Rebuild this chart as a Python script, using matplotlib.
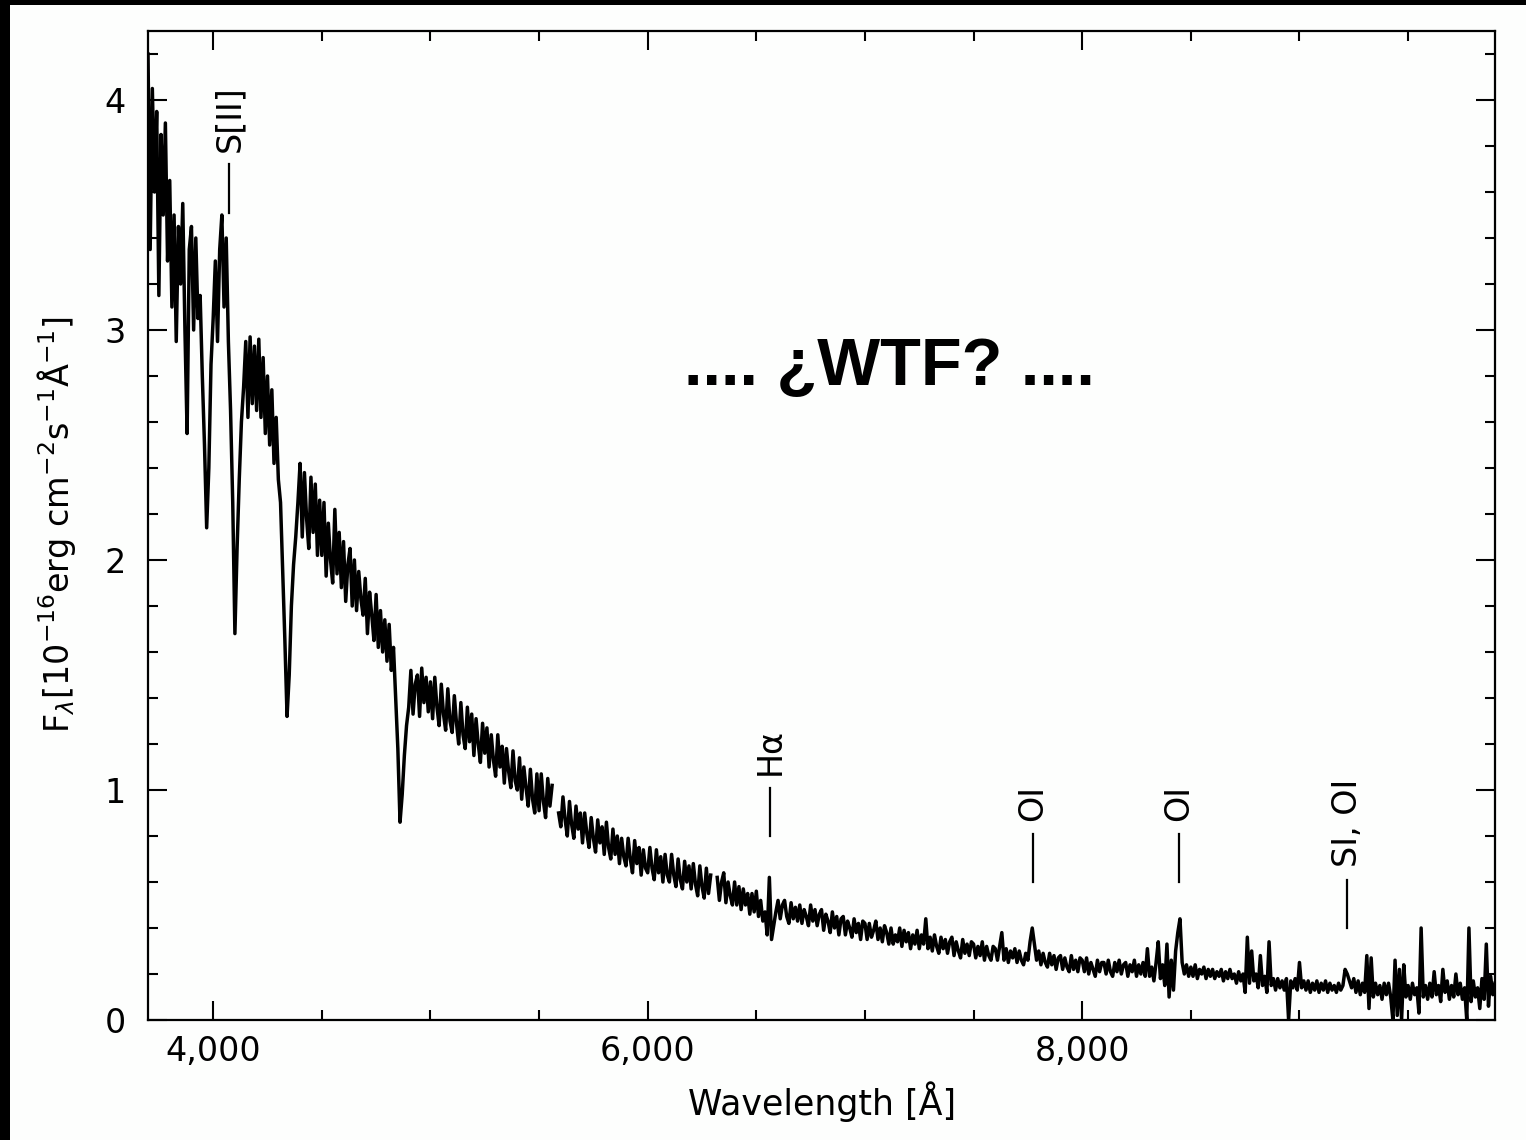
import numpy as np
import matplotlib
matplotlib.use("Agg")
import matplotlib.pyplot as plt
from matplotlib.patches import Rectangle
from matplotlib.ticker import MultipleLocator

# spectrum: flux in 1e-16 erg/cm2/s/A, one value every 10 A starting at 3700 A
WAVE_START = 3700
WAVE_STEP = 10
nan = np.nan

FLUX_3700_4990 = [
    4.20, 3.35, 4.05, 3.60, 3.95, 3.15, 3.85, 3.50, 3.90, 3.30,   # 3700
    3.65, 3.10, 3.50, 2.95, 3.45, 3.20, 3.55, 3.00, 2.55, 3.35,   # 3800
    3.45, 3.00, 3.40, 3.05, 3.15, 2.80, 2.50, 2.14, 2.40, 2.85,   # 3900
    3.05, 3.30, 2.95, 3.35, 3.50, 3.10, 3.40, 2.95, 2.65, 2.25,   # 4000
    1.68, 2.05, 2.35, 2.60, 2.75, 2.95, 2.62, 2.97, 2.68, 2.93,   # 4100
    2.65, 2.96, 2.62, 2.88, 2.55, 2.80, 2.50, 2.74, 2.42, 2.62,   # 4200
    2.35, 2.25, 1.95, 1.65, 1.32, 1.50, 1.80, 1.98, 2.10, 2.25,   # 4300
    2.42, 2.10, 2.38, 2.18, 2.05, 2.36, 2.12, 2.33, 2.02, 2.26,   # 4400
    2.02, 2.25, 1.93, 2.16, 2.00, 1.90, 2.22, 1.94, 2.12, 1.88,   # 4500
    2.08, 1.82, 1.98, 2.05, 1.80, 2.00, 1.78, 1.95, 1.83, 1.76,   # 4600
    1.92, 1.68, 1.86, 1.76, 1.65, 1.85, 1.62, 1.78, 1.60, 1.74,   # 4700
    1.56, 1.72, 1.52, 1.62, 1.40, 1.18, 0.86, 0.98, 1.15, 1.28,   # 4800
    1.36, 1.52, 1.33, 1.46, 1.50, 1.32, 1.53, 1.38, 1.49, 1.34,   # 4900
]
FLUX_5000_6490 = [
    1.47, 1.31, 1.49, 1.36, 1.28, 1.46, 1.33, 1.26, 1.44, 1.30,   # 5000
    1.25, 1.41, 1.29, 1.20, 1.38, 1.24, 1.18, 1.36, 1.21, 1.33,   # 5100
    1.15, 1.31, 1.20, 1.12, 1.29, 1.16, 1.27, 1.10, 1.24, 1.13,   # 5200
    1.06, 1.24, 1.10, 1.19, 1.03, 1.18, 1.08, 1.01, 1.17, 1.04,   # 5300
    1.00, 1.14, 0.96, 1.10, 1.01, 0.93, 1.09, 0.96, 0.90, 1.07,   # 5400
    0.91, 1.07, 0.95, 0.88, 1.05, 0.93, 1.02, nan,  nan,  0.90,   # 5500
    0.84, 0.97, 0.87, 0.80, 0.95, 0.85, 0.79, 0.93, 0.83, 0.90,   # 5600
    0.77, 0.90, 0.81, 0.75, 0.88, 0.79, 0.73, 0.87, 0.77, 0.84,   # 5700
    0.72, 0.86, 0.75, 0.70, 0.83, 0.72, 0.80, 0.68, 0.79, 0.71,   # 5800
    0.67, 0.79, 0.70, 0.64, 0.78, 0.68, 0.75, 0.63, 0.74, 0.66,   # 5900
    0.64, 0.75, 0.66, 0.61, 0.74, 0.64, 0.71, 0.60, 0.72, 0.63,   # 6000
    0.60, 0.72, 0.63, 0.58, 0.70, 0.61, 0.57, 0.69, 0.60, 0.67,   # 6100
    0.57, 0.68, 0.59, 0.54, 0.67, 0.58, 0.53, 0.66, 0.55, 0.63,   # 6200
    nan,  nan,  0.62, 0.52, 0.60, 0.64, 0.51, 0.60, 0.54, 0.50,   # 6300
    0.60, 0.50, 0.58, 0.48, 0.57, 0.50, 0.55, 0.46, 0.55, 0.47,   # 6400
]
FLUX_6500_7990 = [
    0.56, 0.45, 0.52, 0.43, 0.47, 0.37, 0.62, 0.35, 0.41, 0.47,   # 6500
    0.52, 0.44, 0.50, 0.52, 0.45, 0.42, 0.51, 0.44, 0.49, 0.43,   # 6600
    0.50, 0.42, 0.48, 0.45, 0.41, 0.50, 0.43, 0.48, 0.41, 0.46,   # 6700
    0.48, 0.39, 0.46, 0.43, 0.38, 0.47, 0.40, 0.45, 0.37, 0.44,   # 6800
    0.45, 0.37, 0.43, 0.40, 0.36, 0.44, 0.38, 0.42, 0.35, 0.43,   # 6900
    0.42, 0.35, 0.42, 0.36, 0.39, 0.43, 0.35, 0.40, 0.34, 0.41,   # 7000
    0.38, 0.33, 0.40, 0.33, 0.37, 0.34, 0.40, 0.32, 0.39, 0.34,   # 7100
    0.38, 0.31, 0.37, 0.33, 0.39, 0.31, 0.37, 0.33, 0.44, 0.31,   # 7200
    0.36, 0.30, 0.37, 0.32, 0.29, 0.36, 0.31, 0.35, 0.29, 0.34,   # 7300
    0.36, 0.28, 0.34, 0.30, 0.27, 0.35, 0.29, 0.33, 0.28, 0.34,   # 7400
    0.33, 0.27, 0.32, 0.28, 0.34, 0.26, 0.32, 0.28, 0.26, 0.32,   # 7500
    0.31, 0.26, 0.32, 0.38, 0.26, 0.31, 0.25, 0.30, 0.27, 0.31,   # 7600
    0.25, 0.30, 0.26, 0.24, 0.29, 0.26, 0.34, 0.40, 0.33, 0.26,   # 7700
    0.30, 0.24, 0.29, 0.25, 0.23, 0.29, 0.24, 0.28, 0.22, 0.27,   # 7800
    0.28, 0.22, 0.27, 0.23, 0.21, 0.28, 0.22, 0.26, 0.21, 0.27,   # 7900
]
FLUX_8000_9900 = [
    0.26, 0.21, 0.27, 0.20, 0.25, 0.22, 0.19, 0.26, 0.21, 0.25,   # 8000
    0.25, 0.20, 0.26, 0.21, 0.19, 0.25, 0.21, 0.26, 0.20, 0.24,   # 8100
    0.25, 0.19, 0.24, 0.21, 0.26, 0.19, 0.24, 0.20, 0.25, 0.19,   # 8200
    0.31, 0.19, 0.23, 0.17, 0.25, 0.34, 0.18, 0.24, 0.15, 0.33,   # 8300
    0.10, 0.26, 0.13, 0.30, 0.38, 0.44, 0.25, 0.20, 0.24, 0.19,   # 8400
    0.23, 0.19, 0.24, 0.18, 0.22, 0.20, 0.23, 0.18, 0.22, 0.19,   # 8500
    0.22, 0.18, 0.21, 0.19, 0.22, 0.17, 0.21, 0.18, 0.22, 0.18,   # 8600
    0.20, 0.16, 0.21, 0.17, 0.20, 0.12, 0.36, 0.16, 0.30, 0.17,   # 8700
    0.20, 0.14, 0.28, 0.15, 0.19, 0.12, 0.34, 0.15, 0.18, 0.13,   # 8800
    0.18, 0.14, 0.17, 0.13, 0.18, 0.00, 0.17, 0.14, 0.18, 0.13,   # 8900
    0.25, 0.14, 0.17, 0.13, 0.17, 0.12, 0.16, 0.13, 0.17, 0.12,   # 9000
    0.16, 0.13, 0.17, 0.12, 0.16, 0.13, 0.15, 0.12, 0.16, 0.13,   # 9100
    0.15, 0.22, 0.20, 0.17, 0.14, 0.18, 0.12, 0.17, 0.11, 0.16,   # 9200
    0.12, 0.28, 0.05, 0.27, 0.10, 0.16, 0.11, 0.15, 0.09, 0.16,   # 9300
    0.11, 0.16, 0.10, 0.00, 0.26, 0.02, 0.22, 0.00, 0.24, 0.10,   # 9400
    0.15, 0.09, 0.16, 0.11, 0.14, 0.03, 0.40, 0.10, 0.15, 0.09,   # 9500
    0.16, 0.10, 0.21, 0.11, 0.15, 0.08, 0.22, 0.12, 0.17, 0.09,   # 9600
    0.15, 0.10, 0.20, 0.11, 0.16, 0.09, 0.14, 0.00, 0.40, 0.08,   # 9700
    0.17, 0.10, 0.14, 0.05, 0.18, 0.09, 0.33, 0.06, 0.19, 0.11,   # 9800
    0.16,                                                         # 9900
]

# line identifications: label, wavelength, marker bar extent (flux units)
LINE_LABELS = ["S[II]", "Hα", "OI", "OI", "SI, OI"]
LINE_WAVES = [4075, 6563, 7774, 8446, 9220]
MARK_LOW = [3.51, 0.80, 0.60, 0.60, 0.40]
MARK_HIGH = [3.72, 1.01, 0.81, 0.81, 0.61]

XTICKS = [4000, 6000, 8000]
XTICK_LABELS = ["4,000", "6,000", "8,000"]
YTICKS = [0, 1, 2, 3, 4]
XLIM = (3700, 9900)
YLIM = (0, 4.3)

plt.rcParams["font.family"] = ["DejaVu Sans"]
plt.rcParams["mathtext.fontset"] = "dejavusans"

flux = np.array(FLUX_3700_4990 + FLUX_5000_6490 + FLUX_6500_7990 + FLUX_8000_9900)
wave = WAVE_START + WAVE_STEP * np.arange(len(flux))

W, H = 1526, 1140
fig = plt.figure(figsize=(W / 100, H / 100), dpi=100, facecolor="#fdfefd")
ax = fig.add_axes([148 / W, 1 - 1020 / H, (1495 - 148) / W, (1020 - 31) / H])
ax.set_facecolor("#fdfefd")

ax.plot(wave, flux, color="black", lw=2.5)

for lab, wl, lo, hi in zip(LINE_LABELS, LINE_WAVES, MARK_LOW, MARK_HIGH):
    ax.plot([wl, wl], [lo, hi], color="black", lw=1.6)
    ax.text(wl, hi + 0.055, lab, rotation=90, ha="center", va="bottom", fontsize=24)

ax.text(7115, 2.76, ".... ¿WTF? ....", ha="center", va="baseline",
        fontsize=48, fontweight="bold", family="Liberation Sans")

ax.set_xlim(*XLIM)
ax.set_ylim(*YLIM)
ax.set_xticks(XTICKS)
ax.set_xticklabels(XTICK_LABELS)
ax.set_yticks(YTICKS)
ax.xaxis.set_minor_locator(MultipleLocator(500))
ax.yaxis.set_minor_locator(MultipleLocator(0.2))
ax.tick_params(which="both", direction="in", top=True, right=True, width=1.5, labelsize=24)
ax.tick_params(which="major", length=13.5)
ax.tick_params(which="minor", length=7)
ax.tick_params(axis="x", pad=11)
ax.tick_params(axis="y", pad=16)
for s in ax.spines.values():
    s.set_linewidth(1.6)

fig.text(57 / W, 1 - 525 / H, r"F$_{\lambda}$[10$^{-16}$erg cm$^{-2}$s$^{-1}$Å$^{-1}$]",
         rotation=90, ha="center", va="center", fontsize=24)
fig.text(822 / W, 1 - 1115 / H, "Wavelength [Å]", ha="center", va="baseline", fontsize=25)

# black border strips along the top and left edges
fig.add_artist(Rectangle((0, 1 - 5 / H), 1, 5 / H, transform=fig.transFigure, color="black", lw=0))
fig.add_artist(Rectangle((0, 0), 10 / W, 1, transform=fig.transFigure, color="black", lw=0))

fig.savefig("out.png", dpi=100, facecolor=fig.get_facecolor())
